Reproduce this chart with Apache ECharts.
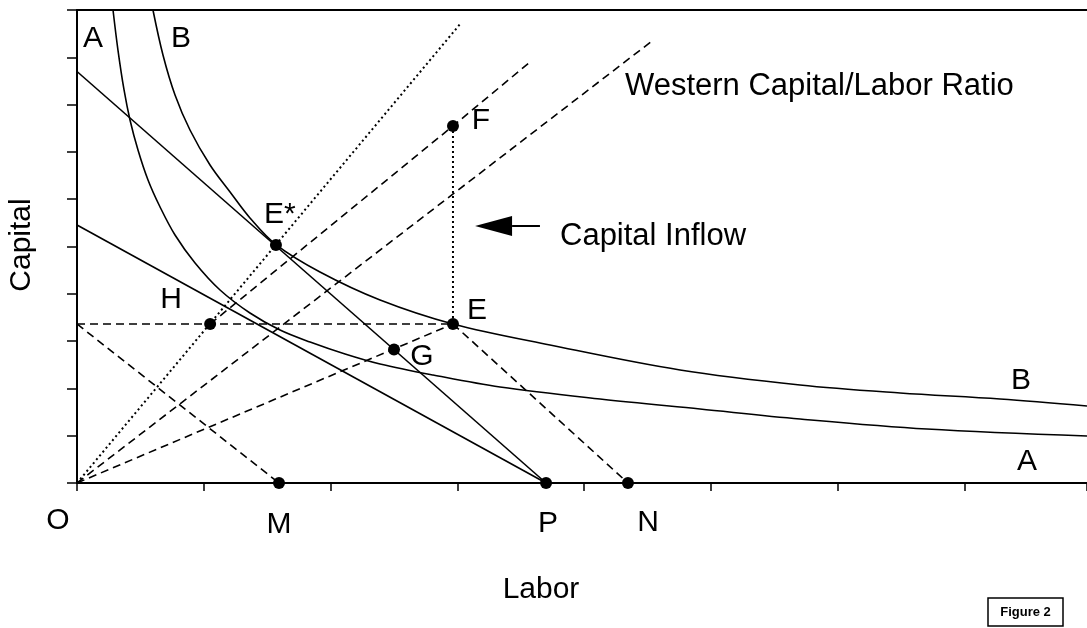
<!DOCTYPE html>
<html>
<head>
<meta charset="utf-8">
<script src="https://cdn.jsdelivr.net/npm/echarts@6/dist/echarts.min.js"></script>
<style>
  html, body { margin: 0; padding: 0; background: #fff; }
  #chart { width: 1087px; height: 628px; }
</style>
</head>
<body>
<div id="chart"></div>
<script>
// values in tick units: x = labor, y = capital
const xMax = 7.965
const yMax = 10

// isoquants
const isoquantA = [
  [0.284, 10.0], [0.323, 9.154], [0.371, 8.309], [0.418, 7.675], [0.481, 7.04],
  [0.56, 6.406], [0.655, 5.835], [0.773, 5.243], [0.931, 4.651], [1.128, 4.08],
  [1.364, 3.594], [1.601, 3.235], [1.838, 2.981], [2.114, 2.728], [2.39, 2.516],
  [2.808, 2.283], [3.336, 2.029], [4.125, 1.776], [4.913, 1.564], [5.702, 1.353],
  [6.703, 1.141], [7.965, 0.994]
]
const isoquantB = [
  [0.599, 10.0], [0.678, 9.049], [0.773, 8.203], [0.891, 7.463], [1.049, 6.723],
  [1.207, 6.152], [1.364, 5.603], [1.569, 5.04], [1.916, 4.461], [2.39, 3.869],
  [2.965, 3.362], [3.73, 2.918], [4.756, 2.389], [5.702, 2.072], [6.491, 1.903],
  [7.279, 1.776], [7.965, 1.628]
]

// straight lines
const isocostHigh = [[0, 8.7], [3.699, 0]]
const isocostLow = [[0, 5.455], [3.699, 0]]
const rayDotted = [[0, 0], [3.028, 9.725]]
const rayWestern = [[0, 0], [4.535, 9.345]]
const rayHF = [[1.05, 3.362], [2.965, 7.548], [3.573, 8.901]]
const rayOE = [[0, 0], [2.5, 2.835], [2.965, 3.362]]
const levelE = [[0, 3.362], [2.965, 3.362]]
const lineToM = [[0, 3.362], [1.593, 0]]
const lineToN = [[2.965, 3.362], [4.345, 0]]
const inflowFE = [[2.965, 7.548], [2.965, 3.362]]

// labelled points
const pointNames = ['F', 'E*', 'H', 'E', 'G', 'M', 'P', 'N']
const pointValues = [
  [2.965, 7.548], [1.569, 5.03], [1.05, 3.362], [2.965, 3.362],
  [2.5, 2.82], [1.593, 0], [3.699, 0], [4.345, 0]
]

// capital inflow arrow
const arrowShaft = [[3.431, 5.433], [3.651, 5.433]]
const arrowHead = [[3.285, 5.433]]

const labelOffsets = {
  'F': [28, -5], 'E*': [4, -30], 'H': [-39, -24], 'E': [24, -13],
  'G': [28, 7], 'M': [0, 42], 'P': [2, 41], 'N': [20, 40]
}

const font = "'Liberation Sans', Arial, sans-serif"
const ink = '#000'

const chart = echarts.init(document.getElementById('chart'))

const lineSeries = (data, type, width, smooth) => ({
  type: 'line',
  data: data,
  showSymbol: false,
  symbol: 'none',
  smooth: smooth || false,
  silent: true,
  lineStyle: { color: ink, width: width, type: type, opacity: 1 }
})

const dashed = [8, 5]
const dotted = [2, 3]

const textEl = (text, x, y, size, align) => ({
  type: 'text', x: x, y: y,
  style: { text: text, font: size + 'px ' + font, fill: ink, align: align || 'center', verticalAlign: 'middle' }
})

const option = {
  animation: false,
  backgroundColor: '#fff',
  grid: { left: 77, right: 0, top: 10, bottom: 145, containLabel: false },
  xAxis: [
    {
      type: 'value', min: 0, max: xMax, interval: 1,
      axisLine: { onZero: false, lineStyle: { color: ink, width: 2 } },
      axisTick: { inside: false, length: 8, lineStyle: { color: ink, width: 1.5 } },
      axisLabel: { show: false },
      splitLine: { show: false }
    },
    {
      type: 'value', position: 'top', min: 0, max: xMax,
      axisLine: { onZero: false, lineStyle: { color: ink, width: 2 } },
      axisTick: { show: false },
      axisLabel: { show: false },
      splitLine: { show: false }
    }
  ],
  yAxis: {
    type: 'value', min: 0, max: yMax, interval: 1,
    axisLine: { show: true, onZero: false, lineStyle: { color: ink, width: 2 } },
    axisTick: { show: true, inside: false, length: 10, lineStyle: { color: ink, width: 1.5 } },
    axisLabel: { show: false },
    splitLine: { show: false }
  },
  series: [
    lineSeries(isoquantA, 'solid', 1.6, 0.35),
    lineSeries(isoquantB, 'solid', 1.6, 0.35),
    lineSeries(isocostHigh, 'solid', 1.6),
    lineSeries(isocostLow, 'solid', 1.6),
    lineSeries(rayDotted, dotted, 2),
    lineSeries(rayWestern, dashed, 1.6),
    lineSeries(rayHF, dashed, 1.6),
    lineSeries(rayOE, dashed, 1.6),
    lineSeries(levelE, dashed, 1.6),
    lineSeries(lineToM, dashed, 1.6),
    lineSeries(lineToN, dashed, 1.6),
    lineSeries(inflowFE, dotted, 2),
    lineSeries(arrowShaft, 'solid', 2),
    {
      type: 'scatter',
      data: arrowHead,
      symbol: 'triangle',
      symbolRotate: 90,
      symbolSize: [20, 37],
      silent: true,
      itemStyle: { color: ink, opacity: 1 }
    },
    {
      type: 'scatter',
      symbolSize: 12,
      silent: true,
      itemStyle: { color: ink, opacity: 1 },
      data: pointNames.map((n, i) => ({
        name: n,
        value: pointValues[i],
        label: {
          show: true,
          position: 'inside',
          offset: labelOffsets[n],
          formatter: n,
          color: ink,
          fontSize: 30,
          fontFamily: font
        }
      }))
    }
  ],
  graphic: [
    textEl('A', 93, 39, 30),
    textEl('B', 181, 39, 30),
    textEl('B', 1021, 381, 30),
    textEl('A', 1027, 462, 30),
    textEl('O', 58, 521, 30),
    textEl('Western Capital/Labor Ratio', 625, 86, 31, 'left'),
    textEl('Capital Inflow', 560, 236, 31, 'left'),
    textEl('Labor', 541, 590, 30),
    Object.assign(textEl('Capital', 22, 245, 30), { rotation: Math.PI / 2 }),
    { type: 'rect', shape: { x: 988, y: 598, width: 75, height: 28 }, style: { fill: '#fff', stroke: ink, lineWidth: 1.5 } },
    textEl('Figure 2', 1025.5, 612, 13)
  ]
}
option.graphic[option.graphic.length - 1].style.font = 'bold 13px ' + font

chart.setOption(option)
window.addEventListener('resize', () => chart.resize())
</script>
</body>
</html>
